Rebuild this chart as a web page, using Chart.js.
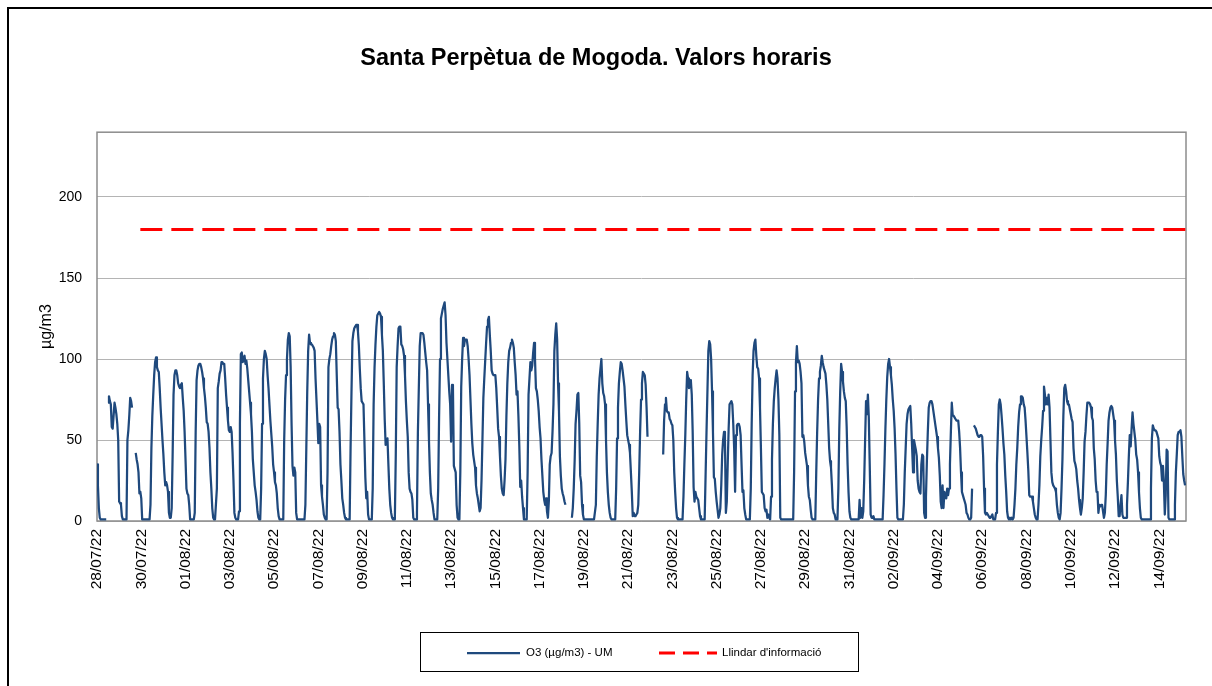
<!DOCTYPE html>
<html lang="ca">

<head>
    <meta charset="UTF-8">
    <title>Santa Perpètua de Mogoda. Valors horaris</title>
    <script src="https://cdn.jsdelivr.net/npm/chart.js"></script>
    <style>
        html, body { margin: 0; padding: 0; background: #fff; }
        #wrap { width: 1212px; height: 686px; position: relative; }
    </style>
</head>

<body>
    <div id="wrap"><canvas id="o3Chart"></canvas></div>

    <script>
        // tick labels (one every 2 days = 48 hours)
        const dateLabels = ['28/07/22', '30/07/22', '01/08/22', '03/08/22', '05/08/22', '07/08/22', '09/08/22',
            '11/08/22', '13/08/22', '15/08/22', '17/08/22', '19/08/22', '21/08/22', '23/08/22', '25/08/22',
            '27/08/22', '29/08/22', '31/08/22', '02/09/22', '04/09/22', '06/09/22', '08/09/22', '10/09/22',
            '12/09/22', '14/09/22'];
        const hoursPerLabel = 48;
        const lastHour = 1181;

        const seriesName = 'O3 (µg/m3) - UM';
        const thresholdName = "Llindar d'informació";
        const thresholdValue = 180;
        const thresholdFrom = 47; // the red line only starts around 30/07

        // hourly O3 values, one row per day (00h..23h)
        const o3Hourly = [
            35, 22, 8, 2, 1, 1, 1, 1, 1, 1, 1, null, 73, 77, 74, 72, 58, 57, 65, 73, 70, 66, 60, 50, // 28/07
            12, 11, 10, 3, 1, 1, 1, 1, 1, 50, 56, 65, 76, 74, 70, null, null, null, 42, 38, 35, 30, 17, 18, // 29/07
            14, 1, 1, 1, 1, 1, 1, 1, 1, 1, 10, 45, 65, 78, 90, 98, 101, 95, 93, 92, 82, 70, 60, 50, // 30/07
            41, 30, 22, 24, 22, 18, 5, 2, 2, 8, 40, 78, 90, 93, 93, 90, 85, 83, 82, 84, 85, 76, 68, 55, // 31/07
            38, 20, 17, 16, 10, 1, 1, 1, 1, 1, 5, 55, 87, 93, 96, 97, 97, 95, 92, 88, 82, 77, 70, 61, // 01/08
            60, 55, 45, 30, 20, 8, 2, 1, 1, 1, 20, 82, 86, 91, 93, 98, 98, 97, 97, 88, 78, 70, 62, 56, // 02/08
            55, 58, 55, 42, 25, 5, 2, 1, 1, 1, 6, 60, 103, 104, 98, 100, 102, 97, 99, 94, 87, 80, 73, 66, // 03/08
            55, 38, 30, 22, 18, 13, 6, 2, 1, 1, 20, 60, 88, 100, 105, 103, 100, 90, 82, 72, 62, 54, 46, 35, // 04/08
            30, 24, 22, 17, 8, 3, 1, 1, 1, 1, 1, 50, 75, 90, 100, 112, 116, 114, 95, 60, 34, 28, 33, 30, // 05/08
            5, 1, 1, 1, 1, 1, 1, 1, 1, 1, 10, 45, 80, 105, 115, 110, 109, 109, 108, 107, 105, 88, 75, 62, // 06/08
            48, 60, 58, 22, 15, 10, 4, 2, 1, 1, 30, 95, 100, 103, 108, 112, 114, 116, 115, 111, 90, 70, 69, 55, // 07/08
            35, 25, 14, 10, 5, 2, 1, 1, 1, 1, 1, 45, 80, 111, 116, 119, 120, 121, 121, 117, 108, 94, 82, 74, // 08/08
            73, 72, 50, 27, 14, 18, 4, 1, 1, 1, 1, 20, 72, 95, 109, 120, 127, 128, 129, 128, 126, 115, 105, 85, // 09/08
            63, 47, 49, 51, 35, 20, 10, 5, 2, 1, 1, 1, 40, 95, 108, 119, 120, 120, 109, 108, 106, 102, 90, 74, // 10/08
            62, 52, 30, 20, 18, 17, 13, 2, 1, 1, 1, 5, 55, 82, 108, 116, 116, 116, 115, 110, 104, 98, 93, 72, // 11/08
            50, 30, 17, 13, 10, 5, 1, 1, 1, 1, 20, 65, 100, 125, 128, 131, 133, 135, 127, 110, 100, 90, 80, 72, // 12/08
            49, 84, 83, 34, 32, 30, 10, 2, 1, 1, 30, 83, 100, 113, 108, 112, 112, 112, 108, 100, 90, 75, 60, 48, // 13/08
            41, 37, 33, 22, 17, 14, 10, 6, 8, 25, 50, 76, 88, 99, 110, 120, 124, 126, 115, 105, 93, 91, 90, 90, // 14/08
            90, 82, 70, 57, 52, 40, 28, 20, 17, 16, 25, 38, 65, 85, 98, 105, 107, 110, 112, 110, 107, 98, 90, 78, // 15/08
            80, 65, 46, 21, 25, 15, 8, 1, 1, 1, 1, 30, 78, 88, 98, 93, 96, 104, 110, 100, 82, 80, 75, 68, // 16/08
            58, 51, 38, 28, 18, 13, 10, 14, 6, 2, 12, 35, 40, 42, 55, 72, 105, 115, 122, 112, 85, 68, 40, 28, // 17/08
            20, 17, 15, 12, 10, null, null, null, null, null, null, 2, 8, 20, 37, 60, 68, 78, 79, 60, 28, 24, 10, 4, // 18/08
            1, 1, 1, 1, 1, 1, 1, 1, 1, 1, 1, 1, 1, 10, 40, 60, 78, 88, 94, 100, 85, 79, 77, 72, // 19/08
            50, 30, 18, 10, 5, 2, 1, 1, 1, 1, 1, 20, 51, 70, 85, 92, 98, 97, 93, 88, 83, 72, 62, 53, // 20/08
            50, 47, 42, 30, 18, 3, 5, 3, 3, 4, 5, 10, 30, 55, 75, 85, 92, 91, 90, 84, 70, 52, null, null, // 21/08
            null, null, null, null, null, null, null, null, null, null, null, null, null, null, 41, 62, 72, 76, 68, 67, 67, 63, 62, 60, // 22/08
            59, 50, 30, 18, 8, 2, 1, 1, 1, 1, 1, 1, 15, 35, 53, 75, 92, 88, 82, 84, 87, 78, 55, 21, // 23/08
            12, 18, 15, 14, 13, 8, 3, 1, 1, 1, 1, 1, 28, 55, 80, 105, 111, 109, 100, 80, 55, 27, 26, 18, // 24/08
            12, 7, 2, 4, 8, 22, 41, 50, 55, 50, 5, 12, 35, 57, 72, 73, 74, 72, 60, 45, 18, 53, 59, 60, // 25/08
            60, 58, 53, 35, 18, 19, 8, 4, 1, 1, 1, 1, 1, 20, 60, 90, 105, 110, 112, 102, 95, 94, 88, 70, // 26/08
            45, 18, 17, 16, 8, 6, 7, 2, 4, 2, 1, 15, 38, 60, 74, 82, 88, 93, 88, 75, 53, 2, 1, 1, // 27/08
            1, 1, 1, 1, 1, 1, 1, 1, 1, 1, 1, 1, 30, 80, 98, 108, 98, 99, 97, 92, 85, 52, 53, 49, // 28/08
            42, 38, 34, 22, 15, 13, 7, 2, 1, 1, 1, 1, 30, 55, 75, 88, 92, 96, 102, 98, 95, 93, 91, 84, // 29/08
            75, 60, 45, 37, 33, 22, 8, 5, 4, 1, 1, 1, 20, 57, 80, 97, 92, 86, 80, 76, 74, 58, 35, 18, // 30/08
            6, 2, 1, 1, 1, 1, 1, 1, 1, 1, 1, 13, 2, 8, 2, 6, 25, 50, 74, 66, 78, 64, 35, 4, // 31/08
            2, 2, 3, 1, 1, 1, 1, 1, 1, 1, 1, 1, 1, 16, 35, 57, 75, 89, 97, 100, 95, 90, 84, 75, // 01/09
            68, 57, 41, 20, 2, 1, 1, 1, 1, 1, 1, 10, 30, 45, 60, 66, 69, 70, 71, 60, 45, 30, 50, 47, // 02/09
            44, 40, 25, 20, 18, 17, 35, 41, 40, 5, 2, 15, 37, 55, 70, 73, 74, 74, 72, 68, 64, 60, 56, 52, // 03/09
            45, 39, 28, 12, 8, 22, 8, 18, 15, 14, 20, 16, 20, 35, 55, 73, 65, 65, 64, 63, 62, 62, 62, 55, // 04/09
            45, 30, 18, 16, 14, 12, 10, 5, 4, 2, 1, 1, 2, 20, null, 59, 58, 57, 55, 53, 52, 52, 53, 53, // 05/09
            52, 40, 20, 5, 4, 5, 4, 3, 2, 2, 3, 4, 1, 1, 1, 5, 35, 55, 72, 75, 72, 65, 57, 48, // 06/09
            41, 28, 18, 6, 2, 1, 2, 1, 2, 1, 2, 10, 20, 35, 45, 58, 67, 72, 77, 77, 76, 72, 70, 62, // 07/09
            52, 42, 31, 16, 15, 15, 15, 12, 8, 4, 2, 1, 1, 10, 22, 40, 50, 58, 68, 83, 78, 72, 76, 72, // 08/09
            78, 70, 50, 30, 24, 22, 21, 20, 18, 10, 5, 2, 1, 5, 20, 38, 65, 82, 84, 80, 74, 72, 72, 69, // 09/09
            66, 63, 61, 45, 37, 35, 32, 25, 20, 13, 8, 4, 8, 14, 30, 49, 55, 65, 73, 73, 73, 72, 70, 64, // 10/09
            62, 45, 38, 25, 18, 18, 5, 10, 9, 10, 10, 6, 2, 5, 16, 35, 48, 62, 67, 70, 71, 70, 66, 62, // 11/09
            50, 41, 25, 15, 3, 3, 10, 16, 4, 2, 2, 2, 2, 10, 24, 40, 53, 46, 57, 67, 60, 55, 50, 41, // 12/09
            38, 30, 18, 8, 2, 1, 1, 1, 1, 1, 1, 1, 1, 1, 1, 20, 51, 59, 57, 56, 56, 55, 53, 51, // 13/09
            40, 36, 34, 25, 34, 24, 4, 16, 44, 43, 2, 1, 1, 1, 1, 1, 1, 10, 30, 41, 53, 55, 55, 56, // 14/09
            52, 40, 29, 25, 22 // 15/09
        ];

        const fontFamily = '"Liberation Sans", Arial, sans-serif';

        // plot frame, outer chart border and the boxed legend
        const excelLook = {
            id: 'excelLook',
            beforeDatasetsDraw(chart) {
                const { ctx, chartArea: a } = chart;
                ctx.save();
                ctx.strokeStyle = '#8c8c8c';
                ctx.lineWidth = 1.5;
                ctx.strokeRect(a.left, a.top, a.right - a.left, a.bottom - a.top);
                ctx.restore();
            },
            afterDraw(chart) {
                const ctx = chart.ctx;
                ctx.save();
                // outer border of the chart object
                ctx.strokeStyle = '#000';
                ctx.lineWidth = 2;
                ctx.strokeRect(8, 8, 1230, 700);

                // legend box
                ctx.lineWidth = 1;
                ctx.strokeRect(420.5, 632.5, 438, 39);
                const y = 653;
                const ds = chart.data.datasets;
                ctx.strokeStyle = ds[0].borderColor;
                ctx.lineWidth = 2.25;
                ctx.beginPath();
                ctx.moveTo(467, y);
                ctx.lineTo(520, y);
                ctx.stroke();

                ctx.strokeStyle = ds[1].borderColor;
                ctx.lineWidth = 3;
                ctx.setLineDash([16, 8]);
                ctx.beginPath();
                ctx.moveTo(659, y);
                ctx.lineTo(717, y);
                ctx.stroke();
                ctx.setLineDash([]);

                ctx.fillStyle = '#000';
                ctx.font = '11.5px ' + fontFamily;
                ctx.textBaseline = 'middle';
                ctx.textAlign = 'left';
                ctx.fillText(ds[0].label, 526, y);
                ctx.fillText(ds[1].label, 722, y);
                ctx.restore();
            }
        };

        const ctx = document.getElementById('o3Chart').getContext('2d');
        const o3Chart = new Chart(ctx, {
            type: 'line',
            data: {
                datasets: [{
                    label: seriesName,
                    data: o3Hourly.map((v, i) => ({ x: i, y: v })),
                    borderColor: '#1f497d',
                    borderWidth: 2.25,
                    pointRadius: 0,
                    tension: 0,
                    spanGaps: false,
                    borderJoinStyle: 'round'
                }, {
                    label: thresholdName,
                    data: [{ x: thresholdFrom, y: thresholdValue }, { x: lastHour, y: thresholdValue }],
                    borderColor: '#ff0000',
                    borderWidth: 3,
                    borderDash: [22, 9],
                    pointRadius: 0
                }]
            },
            options: {
                responsive: true,
                maintainAspectRatio: false,
                animation: false,
                layout: { padding: { left: 6, right: 26, top: 0, bottom: 0 } },
                plugins: {
                    legend: { display: false },
                    tooltip: { enabled: false },
                    title: {
                        display: true,
                        text: 'Santa Perpètua de Mogoda. Valors horaris',
                        color: '#000',
                        font: { family: fontFamily, size: 23.5, weight: 'bold' },
                        padding: { top: 44, bottom: 60 }
                    }
                },
                scales: {
                    x: {
                        type: 'linear',
                        min: 0,
                        max: lastHour,
                        afterBuildTicks: (s) => {
                            s.ticks = dateLabels.map((_, i) => ({ value: i * hoursPerLabel }));
                        },
                        afterFit: (s) => { s.height = 165; },
                        grid: { display: false, drawTicks: false },
                        border: { display: false },
                        ticks: {
                            autoSkip: false,
                            minRotation: 90,
                            maxRotation: 90,
                            padding: 8,
                            color: '#000',
                            font: { family: fontFamily, size: 15.5 },
                            callback: (v) => dateLabels[Math.round(v / hoursPerLabel)]
                        }
                    },
                    y: {
                        min: 0,
                        max: 240,
                        afterBuildTicks: (s) => {
                            s.ticks = s.ticks.filter(t => t.value % 50 === 0);
                        },
                        afterFit: (s) => { s.width = 91; },
                        grid: { color: '#b4b4b4', lineWidth: 1, drawTicks: false },
                        border: { display: false },
                        ticks: {
                            stepSize: 50,
                            padding: 15,
                            color: '#000',
                            font: { family: fontFamily, size: 14 }
                        },
                        title: {
                            display: true,
                            text: 'µg/m3',
                            color: '#000',
                            font: { family: fontFamily, size: 16 },
                            padding: { top: 31, bottom: 0 }
                        }
                    }
                }
            },
            plugins: [excelLook]
        });
    </script>

</body>

</html>
